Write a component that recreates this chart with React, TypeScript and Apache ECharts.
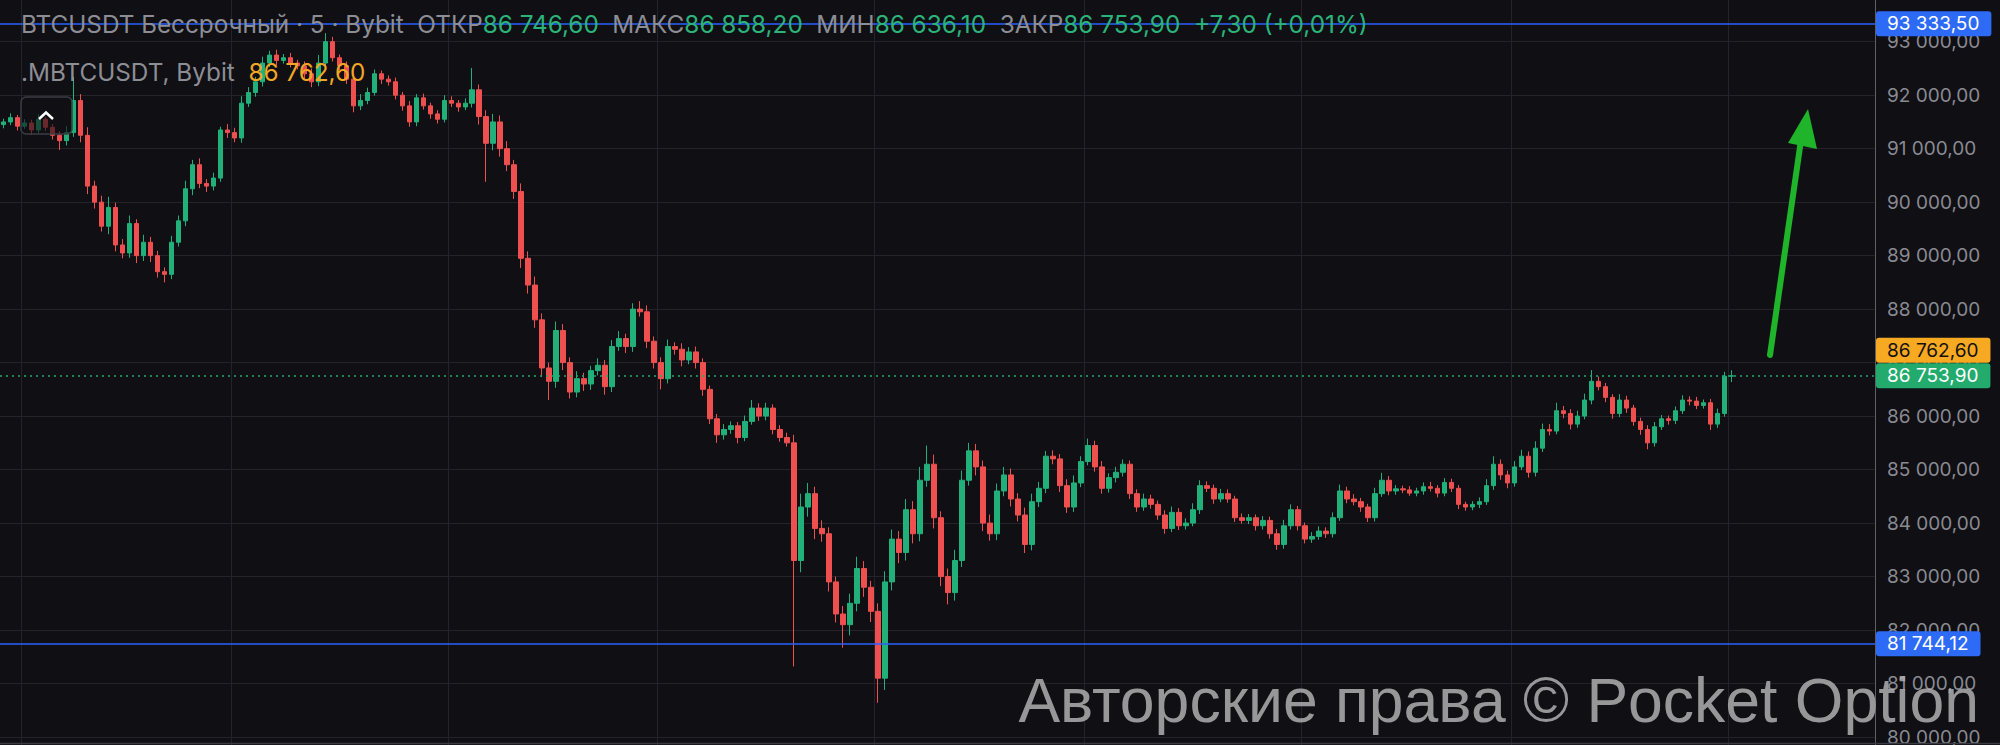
import React, { useEffect, useRef } from "react";
import * as echarts from "echarts";

// ---- data (5-minute BTCUSDT candles) ----
const firstOpen = 91450;
const closes: number[] = [
  91500, 91580, 91420, 91480, 91350, 91550, 91400, 91250, 91150, 91300,
  91900, 91250, 90300, 90000, 89550, 89900, 89200, 89050, 89600, 89000,
  89250, 89000, 88700, 88650, 89250, 89650, 90250, 90700, 90350, 90300,
  90450, 91350, 91300, 91200, 91850, 92050, 92250, 92600, 92750, 92650,
  92700, 92600, 92550, 92400, 92250, 92600, 93000, 92700, 92550, 92300,
  91800, 91900, 92050, 92400, 92300, 92250, 92000, 91800, 91500, 91950,
  91800, 91650, 91550, 91900, 91850, 91780, 91850, 92100, 91600, 91100,
  91500, 91000, 90700, 90200, 88950, 88450, 87800, 86900, 86650, 87600,
  87000, 86450, 86700, 86600, 86850, 86950, 86550, 87300, 87450, 87300,
  88000, 87950, 87400, 87000, 86700, 87300, 87250, 87050, 87200, 87000,
  86500, 85950, 85650, 85750, 85820, 85600, 85900, 86150, 86000, 86150,
  85750, 85600, 85500, 83300, 84300, 84550, 83900, 83800, 82900, 82300,
  82100, 82500, 83150, 82800, 82350, 81100, 82900, 83700, 83450, 84250,
  83800, 84800, 85100, 84100, 83000, 82700, 83300, 84800, 85350, 85050,
  84000, 83800, 84600, 84900, 84450, 84150, 83600, 84400, 84650, 85250,
  85200, 84700, 84300, 84750, 85150, 85450, 85050, 84650, 84850, 84950,
  85100, 84550, 84300, 84450, 84350, 84150, 83900, 84200, 83950, 84000,
  84250, 84700, 84650, 84450, 84550, 84450, 84100, 84050, 84100, 83950,
  84050, 83800, 83600, 83950, 84250, 83950, 83700, 83750, 83850, 83800,
  84100, 84600, 84450, 84400, 84300, 84100, 84550, 84800, 84600, 84640,
  84620, 84560, 84600, 84680, 84650, 84560, 84760, 84650, 84350, 84300,
  84350, 84400, 84700, 85100, 84900, 84750, 85050, 85250, 84950, 85400,
  85750, 85720, 86100, 86050, 85850, 86000, 86300, 86650, 86550, 86350,
  86050, 86300, 86150, 85900, 85750, 85500, 85800, 85950, 85920, 86100,
  86300, 86280, 86200, 86250, 85850, 86050, 86746.6, 86753.9,
];
const upWick: number[] = [
  60, 80, 50, 70, 60, 90, 50, 60, 80, 120,
  440, 120, 150, 100, 120, 200, 90, 110, 150, 80,
  140, 100, 90, 80, 120, 100, 150, 90, 120, 80,
  100, 60, 110, 90, 130, 100, 90, 120, 80, 100,
  70, 90, 60, 80, 100, 150, 160, 90, 60, 80,
  70, 120, 90, 80, 60, 70, 80, 60, 90, 70,
  80, 60, 70, 100, 80, 60, 90, 410, 100, 120,
  150, 120, 140, 90, 150, 130, 160, 120, 100, 170,
  120, 100, 140, 110, 90, 130, 100, 120, 140, 90,
  110, 150, 120, 90, 100, 130, 80, 110, 90, 100,
  80, 70, 90, 100, 80, 70, 110, 150, 90, 100,
  70, 80, 90, 150, 250, 200, 130, 150, 120, 100,
  150, 180, 220, 140, 120, 150, 200, 180, 150, 200,
  160, 250, 350, 180, 120, 150, 200, 180, 150, 130,
  120, 160, 140, 150, 120, 110, 140, 150, 120, 100,
  110, 90, 120, 140, 100, 130, 90, 110, 80, 100,
  90, 70, 80, 100, 80, 70, 90, 110, 80, 90,
  120, 100, 80, 70, 90, 80, 60, 80, 70, 60,
  80, 70, 90, 110, 100, 70, 60, 80, 90, 70,
  100, 120, 80, 90, 70, 60, 110, 140, 80, 70,
  60, 70, 60, 80, 90, 60, 80, 70, 60, 50,
  60, 80, 120, 150, 90, 80, 110, 120, 90, 130,
  110, 100, 150, 90, 80, 100, 120, 210, 90, 70,
  60, 110, 80, 60, 70, 80, 90, 70, 60, 80,
  90, 70, 80, 60, 70, 90, 80, 104.3,
];
const downWick: number[] = [
  70, 60, 80, 50, 90, 60, 70, 80, 175, 90,
  80, 130, 150, 120, 100, 150, 120, 100, 90, 140,
  100, 120, 110, 150, 90, 80, 100, 120, 90, 110,
  80, 70, 100, 80, 90, 70, 80, 90, 70, 100,
  60, 80, 70, 90, 100, 80, 60, 70, 80, 90,
  120, 80, 70, 60, 90, 70, 80, 90, 90, 80,
  70, 90, 80, 60, 70, 90, 60, 80, 150, 720,
  130, 150, 120, 140, 180, 160, 150, 170, 350, 120,
  140, 120, 100, 130, 110, 90, 150, 100, 80, 120,
  100, 90, 130, 110, 200, 90, 100, 120, 80, 110,
  120, 100, 150, 90, 80, 110, 70, 60, 90, 80,
  90, 80, 70, 1980, 220, 180, 200, 150, 180, 160,
  430, 200, 150, 180, 200, 460, 220, 160, 200, 150,
  180, 140, 120, 200, 180, 220, 150, 120, 100, 160,
  150, 130, 120, 100, 140, 120, 160, 110, 100, 90,
  100, 120, 110, 90, 80, 70, 90, 100, 80, 90,
  80, 100, 90, 70, 80, 90, 100, 70, 80, 70,
  60, 80, 70, 90, 60, 70, 80, 60, 70, 90,
  70, 90, 100, 80, 70, 90, 80, 70, 60, 80,
  70, 60, 80, 70, 90, 80, 70, 60, 80, 70,
  60, 50, 60, 70, 60, 80, 60, 70, 90, 70,
  60, 70, 60, 80, 90, 100, 70, 60, 100, 80,
  70, 80, 60, 90, 100, 70, 60, 80, 70, 90,
  100, 70, 90, 80, 100, 120, 70, 60, 80, 70,
  60, 80, 70, 60, 110, 70, 60, 110.5,
];
const blankSlots = 20;
const upperLevel = 93333.5;
const lowerLevel = 81744.12;
const markPrice = 86762.6;
const symbolTitle = "BTCUSDT Бессрочный · 5 · Bybit";
const markTitle = ".MBTCUSDT, Bybit";
const watermark = "Авторские права © Pocket Option";
const yMin = 79000;
const yMax = 94000;
const yStep = 1000;

const UP = "#22b07a";
const DOWN = "#ef4f4f";
const BG = "#0f0f14";
const GRID = "#232329";

function fmt(v: number): string {
  const s = Math.abs(v).toFixed(2).split(".");
  const g = s[0].replace(/\B(?=(\d{3})+(?!\d))/g, " ");
  return (v < 0 ? "-" : "") + g + "," + s[1];
}

export default function App() {
  const ref = useRef<HTMLDivElement>(null);
  useEffect(() => {
    document.body.style.margin = "0";
    document.body.style.background = BG;
    if (!ref.current) return;
    const chart = echarts.init(ref.current, undefined, { renderer: "svg" });

    const candles = closes.map((c, i) => {
      const o = i === 0 ? firstOpen : closes[i - 1];
      const hi = Math.max(o, c) + upWick[i];
      const lo = Math.min(o, c) - downWick[i];
      return [o, c, lo, hi];
    });
    const cats = [] as string[];
    for (let i = 0; i < closes.length + blankSlots; i++) cats.push(String(i));
    const last = candles[candles.length - 1];
    const [lo_, lc_, ll_, lh_] = last;
    const chg = lc_ - lo_;
    const pct = (chg / lo_) * 100;
    const sign = chg >= 0 ? "+" : "-";
    const chgText = sign + fmt(Math.abs(chg)) + " (" + sign + fmt(Math.abs(pct)) + "%)";

    const labelBase = {
      show: true,
      position: "end",
      distance: 1,
      fontSize: 19,
      fontFamily: "Inter",
      lineHeight: 19,
      padding: [3, 12, 3, 11],
      borderRadius: 3,
      formatter: (p: any) => fmt(p.value),
    };

    const fontF = "Inter";
    const gray = "#8d8d94";
    const green = "#2bb37a";
    const hs = 24.3;

    chart.setOption({
      animation: false,
      backgroundColor: BG,
      grid: { left: 0, right: 125, top: -11.8, bottom: -45.5, containLabel: false, outerBoundsMode: "none" },
      xAxis: {
        type: "category",
        data: cats,
        boundaryGap: true,
        axisLine: { show: false },
        axisTick: { show: false },
        axisLabel: { show: false },
        splitLine: {
          show: true,
          interval: (idx: number) => {
            const x = idx * 7;
            const k = Math.round((x - 19) / 213.5);
            return Math.abs(x - 19 - 213.5 * k) < 3.5;
          },
          lineStyle: { color: GRID, width: 1 },
        },
      },
      yAxis: {
        type: "value",
        position: "right",
        min: yMin,
        max: yMax,
        interval: yStep,
        axisLine: { show: true, lineStyle: { color: "#5f5f66", width: 1 } },
        axisTick: { show: false },
        axisLabel: {
          color: "#8a8a91",
          fontSize: 19,
          fontFamily: fontF,
          margin: 12,
          formatter: (v: number) => fmt(v),
        },
        splitLine: { lineStyle: { color: GRID, width: 1 } },
      },
      series: [
        {
          type: "candlestick",
          data: candles,
          barWidth: 5,
          itemStyle: {
            color: UP,
            color0: DOWN,
            borderColor: UP,
            borderColor0: DOWN,
            borderWidth: 1,
          },
          markLine: {
            symbol: ["none", "none"],
            silent: true,
            animation: false,
            data: [
              {
                yAxis: upperLevel,
                lineStyle: { color: "#2962ff", width: 1.5, type: "solid" },
                label: { ...labelBase, color: "#ffffff", backgroundColor: "#2d6af6" },
              },
              {
                yAxis: lowerLevel,
                lineStyle: { color: "#2962ff", width: 1.5, type: "solid" },
                label: { ...labelBase, color: "#ffffff", backgroundColor: "#2d6af6" },
              },
              {
                yAxis: lc_,
                lineStyle: { color: "#22ab6c", width: 1.5, type: [2, 4] },
                label: { ...labelBase, color: "#ffffff", backgroundColor: "#22ab6c" },
              },
              {
                yAxis: markPrice,
                lineStyle: { color: "rgba(0,0,0,0)", width: 0 },
                label: {
                  ...labelBase,
                  color: "#111111",
                  backgroundColor: "#f7a921",
                  offset: [0, -25],
                },
              },
            ],
          },
        },
      ],
      graphic: [
        {
          type: "text",
          z: 100,
          style: {
            x: 21,
            y: 24,
            verticalAlign: "middle",
            text:
              "{g|" + symbolTitle + "  ОТКР}{v|" + fmt(lo_) + "}{g|  МАКС}{v|" + fmt(lh_) +
              "}{g|  МИН}{v|" + fmt(ll_) + "}{g|  ЗАКР}{v|" + fmt(lc_) + "}{v|  " + chgText + "}",
            rich: {
              g: { fill: gray, fontSize: hs, fontFamily: fontF },
              v: { fill: green, fontSize: hs, fontFamily: fontF },
            },
          },
        },
        {
          type: "text",
          z: 100,
          style: {
            x: 21,
            y: 72,
            verticalAlign: "middle",
            text: "{g|" + markTitle + "}{g|  }{o|" + fmt(markPrice) + "}",
            rich: {
              g: { fill: gray, fontSize: hs, fontFamily: fontF },
              o: { fill: "#f2a623", fontSize: hs, fontFamily: fontF },
            },
          },
        },
        {
          type: "rect",
          z: 100,
          shape: { x: 21, y: 97, width: 51, height: 37, r: 5 },
          style: { fill: "rgba(15,15,20,0.6)", stroke: "#3c3c44", lineWidth: 1.5 },
        },
        {
          type: "polyline",
          z: 101,
          shape: { points: [[39, 119], [46, 112.5], [53, 119]] },
          style: { stroke: "#ffffff", lineWidth: 2.5, fill: "none" },
        },
        {
          type: "line",
          z: 100,
          shape: { x1: 1770, y1: 355, x2: 1801, y2: 140 },
          style: { stroke: "#1fb42a", lineWidth: 6, lineCap: "round" },
        },
        {
          type: "polygon",
          z: 100,
          shape: { points: [[1808, 109], [1788, 143], [1817, 149]] },
          style: { fill: "#1fb42a" },
        },
        {
          type: "line",
          z: 90,
          shape: { x1: 0, y1: 743.5, x2: 2000, y2: 743.5 },
          style: { stroke: "#3a3a42", lineWidth: 1.5 },
        },
        {
          type: "text",
          z: 110,
          style: {
            x: 1979,
            y: 700,
            text: watermark,
            textAlign: "right",
            verticalAlign: "middle",
            fontSize: 62.5,
            fontFamily: "Liberation Sans",
            fill: "rgba(175,175,178,0.85)",
          },
        },
      ],
    });
    return () => chart.dispose();
  }, []);
  return <div ref={ref} style={{ width: 2000, height: 745 }} />;
}
